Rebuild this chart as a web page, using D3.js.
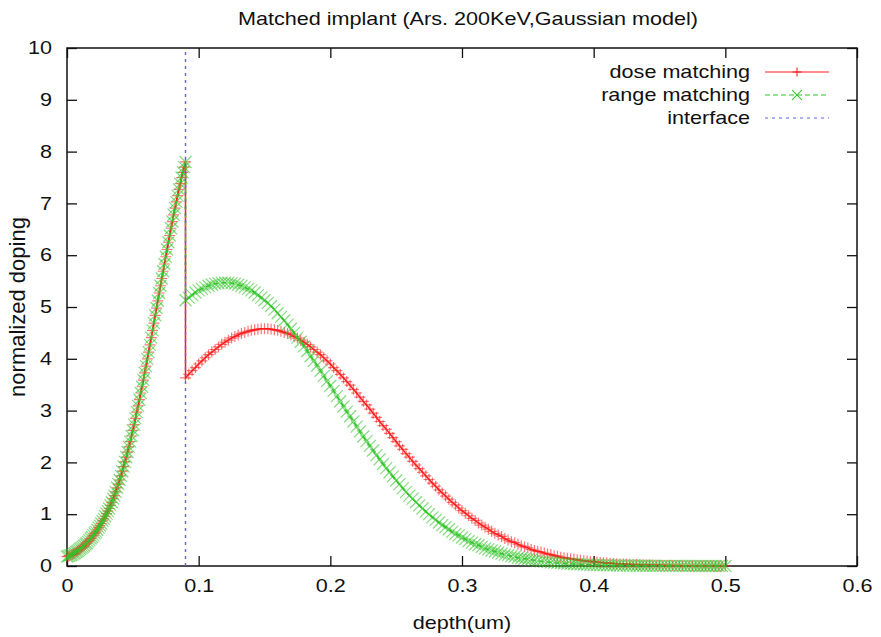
<!DOCTYPE html>
<html lang="en">
<head>
<meta charset="UTF-8">
<title>Matched implant (Ars. 200KeV,Gaussian model)</title>
<script src="https://d3js.org/d3.v7.min.js"></script>
<style>
  body { margin: 0; background: #fff; }
  text { font-family: "Liberation Sans", Arial, Helvetica, sans-serif; fill: #111; }
</style>
</head>
<body>
<div id="chart"></div>
<script>
// Axis ticks
const xTicks = [0, 0.1, 0.2, 0.3, 0.4, 0.5, 0.6];
const xTickLabels = ["0", "0.1", "0.2", "0.3", "0.4", "0.5", "0.6"];
const yTicks = [0, 1, 2, 3, 4, 5, 6, 7, 8, 9, 10];

// First layer (0 - 0.09 um): both matchings give the same profile
const depthFront = [
  0, 0.001, 0.002, 0.003, 0.004, 0.005, 0.006, 0.007, 0.008, 0.009,
  0.01, 0.011, 0.012, 0.013, 0.014, 0.015, 0.016, 0.017, 0.018, 0.019,
  0.02, 0.021, 0.022, 0.023, 0.024, 0.025, 0.026, 0.027, 0.028, 0.029,
  0.03, 0.031, 0.032, 0.033, 0.034, 0.035, 0.036, 0.037, 0.038, 0.039,
  0.04, 0.041, 0.042, 0.043, 0.044, 0.045, 0.046, 0.047, 0.048, 0.049,
  0.05, 0.051, 0.052, 0.053, 0.054, 0.055, 0.056, 0.057, 0.058, 0.059,
  0.06, 0.061, 0.062, 0.063, 0.064, 0.065, 0.066, 0.067, 0.068, 0.069,
  0.07, 0.071, 0.072, 0.073, 0.074, 0.075, 0.076, 0.077, 0.078, 0.079,
  0.08, 0.081, 0.082, 0.083, 0.084, 0.085, 0.086, 0.087, 0.088, 0.089,
  0.09
];
const dopingFront = [
  0.18, 0.19, 0.20, 0.21, 0.22, 0.24, 0.25, 0.27, 0.29, 0.31,
  0.33, 0.35, 0.37, 0.39, 0.42, 0.44, 0.47, 0.50, 0.53, 0.56,
  0.59, 0.63, 0.66, 0.70, 0.74, 0.78, 0.82, 0.87, 0.91, 0.96,
  1.01, 1.06, 1.11, 1.17, 1.23, 1.30, 1.36, 1.43, 1.51, 1.58,
  1.66, 1.74, 1.83, 1.92, 2.01, 2.10, 2.20, 2.30, 2.40, 2.51,
  2.62, 2.73, 2.85, 2.97, 3.09, 3.21, 3.34, 3.46, 3.59, 3.73,
  3.86, 4.00, 4.13, 4.27, 4.41, 4.55, 4.69, 4.84, 4.98, 5.12,
  5.27, 5.41, 5.55, 5.69, 5.83, 5.97, 6.11, 6.25, 6.38, 6.52,
  6.65, 6.78, 6.91, 7.03, 7.15, 7.27, 7.38, 7.50, 7.60, 7.70,
  7.80
];

// Second layer (0.09 - 0.5 um)
const depthBack = [
  0.09, 0.0925, 0.095, 0.0975, 0.1, 0.1025, 0.105, 0.1075, 0.11, 0.1125,
  0.115, 0.1175, 0.12, 0.1225, 0.125, 0.1275, 0.13, 0.1325, 0.135, 0.1375,
  0.14, 0.1425, 0.145, 0.1475, 0.15, 0.1525, 0.155, 0.1575, 0.16, 0.1625,
  0.165, 0.1675, 0.17, 0.1725, 0.175, 0.1775, 0.18, 0.1825, 0.185, 0.1875,
  0.19, 0.1925, 0.195, 0.1975, 0.2, 0.2025, 0.205, 0.2075, 0.21, 0.2125,
  0.215, 0.2175, 0.22, 0.2225, 0.225, 0.2275, 0.23, 0.2325, 0.235, 0.2375,
  0.24, 0.2425, 0.245, 0.2475, 0.25, 0.2525, 0.255, 0.2575, 0.26, 0.2625,
  0.265, 0.2675, 0.27, 0.2725, 0.275, 0.2775, 0.28, 0.2825, 0.285, 0.2875,
  0.29, 0.2925, 0.295, 0.2975, 0.3, 0.3025, 0.305, 0.3075, 0.31, 0.3125,
  0.315, 0.3175, 0.32, 0.3225, 0.325, 0.3275, 0.33, 0.3325, 0.335, 0.3375,
  0.34, 0.3425, 0.345, 0.3475, 0.35, 0.3525, 0.355, 0.3575, 0.36, 0.3625,
  0.365, 0.3675, 0.37, 0.3725, 0.375, 0.3775, 0.38, 0.3825, 0.385, 0.3875,
  0.39, 0.3925, 0.395, 0.3975, 0.4, 0.4025, 0.405, 0.4075, 0.41, 0.4125,
  0.415, 0.4175, 0.42, 0.4225, 0.425, 0.4275, 0.43, 0.4325, 0.435, 0.4375,
  0.44, 0.4425, 0.445, 0.4475, 0.45, 0.4525, 0.455, 0.4575, 0.46, 0.4625,
  0.465, 0.4675, 0.47, 0.4725, 0.475, 0.4775, 0.48, 0.4825, 0.485, 0.4875,
  0.49, 0.4925, 0.495, 0.4975, 0.5
];
const doseBack = [
  3.63, 3.70, 3.77, 3.83, 3.90, 3.96, 4.02, 4.08, 4.13, 4.18,
  4.23, 4.28, 4.32, 4.36, 4.40, 4.43, 4.46, 4.49, 4.51, 4.53,
  4.55, 4.56, 4.57, 4.58, 4.58, 4.58, 4.57, 4.56, 4.55, 4.53,
  4.51, 4.49, 4.46, 4.43, 4.40, 4.36, 4.32, 4.28, 4.23, 4.18,
  4.13, 4.08, 4.02, 3.96, 3.90, 3.83, 3.77, 3.70, 3.63, 3.56,
  3.49, 3.41, 3.34, 3.26, 3.18, 3.11, 3.03, 2.95, 2.87, 2.79,
  2.71, 2.64, 2.56, 2.48, 2.40, 2.32, 2.25, 2.17, 2.10, 2.02,
  1.95, 1.88, 1.81, 1.74, 1.67, 1.60, 1.54, 1.47, 1.41, 1.35,
  1.29, 1.23, 1.18, 1.12, 1.07, 1.02, 0.97, 0.92, 0.88, 0.83,
  0.79, 0.75, 0.71, 0.67, 0.63, 0.60, 0.57, 0.53, 0.50, 0.47,
  0.45, 0.42, 0.39, 0.37, 0.35, 0.32, 0.30, 0.28, 0.27, 0.25,
  0.23, 0.22, 0.20, 0.19, 0.17, 0.16, 0.15, 0.14, 0.13, 0.12,
  0.11, 0.10, 0.095, 0.088, 0.081, 0.075, 0.069, 0.063, 0.058, 0.054,
  0.049, 0.045, 0.041, 0.038, 0.035, 0.032, 0.029, 0.027, 0.024, 0.022,
  0.020, 0.018, 0.017, 0.015, 0.014, 0.012, 0.011, 0.010, 0.009, 0.008,
  0.008, 0.007, 0.006, 0.006, 0.005, 0.004, 0.004, 0.004, 0.003, 0.003,
  0.003, 0.002, 0.002, 0.002, 0.002
];
const rangeBack = [
  5.13, 5.18, 5.23, 5.28, 5.32, 5.35, 5.38, 5.41, 5.43, 5.45,
  5.46, 5.47, 5.47, 5.47, 5.46, 5.45, 5.43, 5.41, 5.38, 5.35,
  5.32, 5.28, 5.23, 5.18, 5.13, 5.08, 5.02, 4.95, 4.88, 4.81,
  4.74, 4.66, 4.58, 4.50, 4.41, 4.33, 4.24, 4.15, 4.05, 3.96,
  3.87, 3.77, 3.67, 3.57, 3.48, 3.38, 3.28, 3.18, 3.08, 2.98,
  2.89, 2.79, 2.69, 2.60, 2.50, 2.41, 2.32, 2.23, 2.14, 2.06,
  1.97, 1.89, 1.81, 1.73, 1.65, 1.58, 1.50, 1.43, 1.36, 1.30,
  1.23, 1.17, 1.11, 1.05, 1.00, 0.94, 0.89, 0.84, 0.79, 0.75,
  0.71, 0.66, 0.62, 0.59, 0.55, 0.52, 0.48, 0.45, 0.42, 0.40,
  0.37, 0.34, 0.32, 0.30, 0.28, 0.26, 0.24, 0.22, 0.21, 0.19,
  0.18, 0.16, 0.15, 0.14, 0.13, 0.12, 0.11, 0.10, 0.09, 0.085,
  0.078, 0.071, 0.065, 0.060, 0.055, 0.050, 0.045, 0.041, 0.038, 0.034,
  0.031, 0.028, 0.026, 0.023, 0.021, 0.019, 0.017, 0.016, 0.014, 0.013,
  0.011, 0.010, 0.009, 0.008, 0.0075, 0.007, 0.006, 0.005, 0.005, 0.004,
  0.004, 0.003, 0.003, 0.003, 0.002, 0.002, 0.002, 0.002, 0.001, 0.001,
  0.001, 0.001, 0.001, 0.001, 0.001, 0, 0, 0, 0, 0,
  0, 0, 0, 0, 0
];

// Interface between the two layers
const interfaceDepth = [0.09, 0.09];
const interfaceDoping = [0, 10];

const width = 881;
const height = 637;
const margin = { top: 48, right: 24, bottom: 71, left: 67 };
const stretch = 1.2;   // the source figure is stretched horizontally

const svg = d3.select("#chart")
  .append("svg")
  .attr("width", width)
  .attr("height", height);

const x = d3.scaleLinear().domain([0, 0.6]).range([margin.left, width - margin.right]);
const y = d3.scaleLinear().domain([0, 10]).range([height - margin.bottom, margin.top]);

const zip = (xs, ys) => xs.map((d, i) => [d, ys[i]]);
const dose = zip(depthFront.concat(depthBack), dopingFront.concat(doseBack));
const range = zip(depthFront.concat(depthBack), dopingFront.concat(rangeBack));
const iface = zip(interfaceDepth, interfaceDoping);

function label(g, px, py, str, anchor, size) {
  return g.append("text")
    .attr("transform", `translate(${px},${py}) scale(${stretch},1)`)
    .attr("text-anchor", anchor)
    .style("font-size", `${size}px`)
    .text(str);
}

// ticks (gnuplot style: inward, mirrored)
const styleAxis = g => {
  g.select(".domain").remove();
  g.selectAll(".tick line").attr("stroke", "#111").attr("stroke-width", 1.3);
};

svg.append("g")
  .attr("transform", `translate(0,${y(0)})`)
  .call(d3.axisBottom(x).tickValues(xTicks).tickSize(-10).tickPadding(13)
    .tickFormat((d, i) => xTickLabels[i]))
  .call(styleAxis)
  .call(g => g.selectAll(".tick text")
    .attr("transform", `scale(${stretch},1)`)
    .attr("fill", "#111")
    .style("font-size", "18px")
    .style("font-family", null));

svg.append("g")
  .attr("transform", `translate(0,${y(10)})`)
  .call(d3.axisTop(x).tickValues(xTicks).tickSize(-10).tickFormat(""))
  .call(styleAxis);

svg.append("g")
  .attr("transform", `translate(${x(0)},0)`)
  .call(d3.axisLeft(y).tickValues(yTicks).tickSize(-10).tickPadding(0)
    .tickFormat(d3.format("d")))
  .call(styleAxis)
  .call(g => g.selectAll(".tick text")
    .attr("x", -15 / stretch)
    .attr("transform", `scale(${stretch},1)`)
    .attr("fill", "#111")
    .style("font-size", "18px")
    .style("font-family", null));

svg.append("g")
  .attr("transform", `translate(${x(0.6)},0)`)
  .call(d3.axisRight(y).tickValues(yTicks).tickSize(-10).tickFormat(""))
  .call(styleAxis);

svg.append("rect")
  .attr("x", x(0))
  .attr("y", y(10))
  .attr("width", x(0.6) - x(0))
  .attr("height", y(0) - y(10))
  .attr("fill", "none")
  .attr("stroke", "#111")
  .attr("stroke-width", 1.5);

// curves
const line = d3.line().x(d => x(d[0])).y(d => y(d[1]));
const plusPath = "M-5.5,0H5.5M0,-5.5V5.5";
const timesPath = "M-6,-6L6,6M-6,6L6,-6";
const red = "#ff1a1a";
const green = "#33c42a";
const blue = "#6060f0";

function drawSeries(data, color, dash, marker) {
  const g = svg.append("g");
  g.selectAll("path.mark")
    .data(data)
    .join("path")
    .attr("class", "mark")
    .attr("d", marker)
    .attr("transform", d => `translate(${x(d[0])},${y(d[1])})`)
    .attr("fill", "none")
    .attr("stroke", color)
    .attr("stroke-opacity", 0.6)
    .attr("stroke-width", 1.2);
  g.append("path")
    .datum(data)
    .attr("d", line)
    .attr("fill", "none")
    .attr("stroke", color)
    .attr("stroke-width", 1.5)
    .attr("stroke-dasharray", dash);
}

drawSeries(dose, red, null, plusPath);
drawSeries(range, green, "5,3", timesPath);

svg.append("path")
  .datum(iface)
  .attr("d", line)
  .attr("fill", "none")
  .attr("stroke", blue)
  .attr("stroke-width", 1.4)
  .attr("stroke-dasharray", "3,4");

// legend
const legendItems = [
  { name: "dose matching", color: red, dash: null, marker: plusPath },
  { name: "range matching", color: green, dash: "5,3", marker: timesPath },
  { name: "interface", color: blue, dash: "3,4", marker: null }
];
const legend = svg.append("g");
legendItems.forEach((item, i) => {
  const cy = 72 + i * 23;
  label(legend, 750, cy + 6, item.name, "end", 18);
  legend.append("line")
    .attr("x1", 765).attr("x2", 829)
    .attr("y1", cy).attr("y2", cy)
    .attr("stroke", item.color)
    .attr("stroke-width", 1.2)
    .attr("stroke-dasharray", item.dash);
  if (item.marker) {
    legend.append("path")
      .attr("d", item.marker)
      .attr("transform", `translate(797,${cy}) scale(0.8)`)
      .attr("fill", "none")
      .attr("stroke", item.color)
      .attr("stroke-width", 1.3);
  }
});

// titles
label(svg, (x(0) + x(0.6)) / 2 + 6, 25, "Matched implant (Ars. 200KeV,Gaussian model)", "middle", 18);
label(svg, (x(0) + x(0.6)) / 2, 629, "depth(um)", "middle", 18);
svg.append("text")
  .attr("transform", "translate(25,307) rotate(-90)")
  .attr("text-anchor", "middle")
  .style("font-size", "22px")
  .text("normalized doping");
</script>
</body>
</html>
